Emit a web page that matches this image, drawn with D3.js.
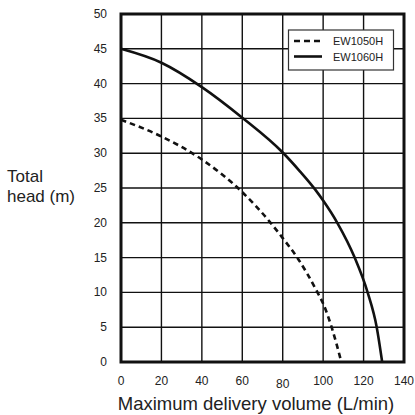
<!DOCTYPE html>
<html>
<head>
<meta charset="utf-8">
<script src="https://cdn.jsdelivr.net/npm/d3@7"></script>
<style>
  html, body { margin: 0; padding: 0; background: #fff; }
  svg { display: block; font-family: "Liberation Sans", Arial, sans-serif; }
</style>
</head>
<body>
<div id="chart"></div>
<script>
// ---- data ----
const xTicks = [0, 20, 40, 60, 80, 100, 120, 140];
const yTicks = [0, 5, 10, 15, 20, 25, 30, 35, 40, 45, 50];
const seriesNames = ["EW1050H", "EW1060H"];
const ew1050hFlow = [0, 20, 40, 60, 74, 80, 87.2, 97.2, 100, 104.2, 109];
const ew1050hHead = [34.8, 32.4, 29.1, 24.4, 20, 17.8, 15, 10, 8.4, 5, 0];
const ew1060hFlow = [0, 20, 40, 60, 80, 88.5, 96, 100, 107, 115.6, 122, 126.5, 129.2];
const ew1060hHead = [45, 43.0, 39.5, 35.1, 30.1, 27.4, 24.8, 23.2, 20, 15, 10, 5, 0];
const xTitle = "Maximum delivery volume (L/min)";
const yTitle = ["Total", "head (m)"];

// ---- layout ----
const W = 415, H = 415;
const plot = { left: 121, right: 404, top: 14, bottom: 362 };

const svg = d3.select("#chart").append("svg").attr("width", W).attr("height", H);

const x = d3.scaleLinear().domain([0, 140]).range([plot.left, plot.right]);
const y = d3.scaleLinear().domain([0, 50]).range([plot.bottom, plot.top]);

// gridlines
const grid = svg.append("g");
grid.selectAll("line.v").data(xTicks).join("line")
  .attr("x1", d => x(d)).attr("x2", d => x(d))
  .attr("y1", plot.top).attr("y2", plot.bottom)
  .attr("stroke", "#111").attr("stroke-width", 1.4);
grid.selectAll("line.h").data(yTicks).join("line")
  .attr("x1", plot.left).attr("x2", plot.right)
  .attr("y1", d => y(d)).attr("y2", d => y(d))
  .attr("stroke", "#111").attr("stroke-width", 1.4);

// y tick labels
svg.append("g").selectAll("text").data(yTicks).join("text")
  .attr("x", 107).attr("y", d => y(d) + 4)
  .attr("text-anchor", "end").attr("font-size", 12).attr("fill", "#222")
  .text(d => d);

// x tick labels
svg.append("g").selectAll("text").data(xTicks).join("text")
  .attr("x", d => x(d)).attr("y", d => d === 80 ? 388 : 385)
  .attr("text-anchor", "middle").attr("font-size", 12).attr("fill", "#222")
  .text(d => d);

// curves
const line = d3.line().x(d => x(d[0])).y(d => y(d[1])).curve(d3.curveMonotoneX);
const s1 = ew1050hFlow.map((f, i) => [f, ew1050hHead[i]]);
const s2 = ew1060hFlow.map((f, i) => [f, ew1060hHead[i]]);

svg.append("path").datum(s1).attr("d", line)
  .attr("fill", "none").attr("stroke", "#111").attr("stroke-width", 2.6)
  .attr("stroke-dasharray", "5.5,4");
svg.append("path").datum(s2).attr("d", line)
  .attr("fill", "none").attr("stroke", "#111").attr("stroke-width", 2.6);

// frame
svg.append("rect")
  .attr("x", plot.left).attr("y", plot.top)
  .attr("width", plot.right - plot.left).attr("height", plot.bottom - plot.top)
  .attr("fill", "none").attr("stroke", "#111").attr("stroke-width", 3);

// legend
const lg = svg.append("g");
lg.append("rect").attr("x", 288.5).attr("y", 30).attr("width", 105).attr("height", 40)
  .attr("fill", "#fff").attr("stroke", "#333").attr("stroke-width", 1.2);
const legendDash = ["6,4", null];
seriesNames.forEach((name, i) => {
  const ly = 41 + i * 15.5;
  const l = lg.append("line").attr("x1", 294).attr("x2", 322).attr("y1", ly).attr("y2", ly)
    .attr("stroke", "#111").attr("stroke-width", 2.6);
  if (legendDash[i]) l.attr("stroke-dasharray", legendDash[i]);
  lg.append("text").attr("x", 333).attr("y", ly + 4).attr("font-size", 11).attr("fill", "#222").text(name);
});

// axis titles
svg.append("text").attr("x", 256).attr("y", 410).attr("text-anchor", "middle")
  .attr("font-size", 18.5).attr("fill", "#222").text(xTitle);
const yt = svg.append("text").attr("x", 7).attr("y", 182).attr("font-size", 17).attr("fill", "#222");
yTitle.forEach((t, i) => yt.append("tspan").attr("x", 7).attr("y", 182 + i * 20).text(t));
</script>
</body>
</html>
